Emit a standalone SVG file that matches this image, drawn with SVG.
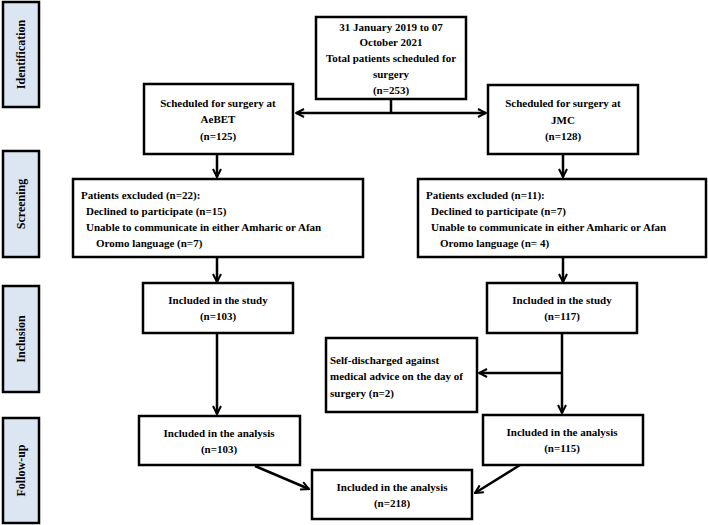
<svg xmlns="http://www.w3.org/2000/svg" width="708" height="525" viewBox="0 0 708 525">
<defs>
<marker id="ah" viewBox="0 0 10 10" refX="9" refY="5" markerWidth="4" markerHeight="4" orient="auto" markerUnits="strokeWidth">
<path d="M1,1 L9,5 L1,9" fill="none" stroke="#000" stroke-width="2"/>
</marker>
<style>
.box{fill:#fff;stroke:#000;stroke-width:2.5}
.side{fill:#dce6f2;stroke:#000;stroke-width:2.5}
text{font-family:"Liberation Serif","Times New Roman",serif;font-weight:bold;font-size:11px;fill:#000}
.c{text-anchor:middle}
.s{font-size:12px;text-anchor:middle}
.ln{fill:none;stroke:#000;stroke-width:2.5}
</style>
</defs>
<rect width="708" height="525" fill="#fff"/>
<g id="side-identification"><rect class="side" x="3" y="2" width="36" height="105"/><text class="s" transform="translate(25,54.5) rotate(-90)">Identification</text></g>
<g id="side-screening"><rect class="side" x="3" y="151" width="36" height="106"/><text class="s" transform="translate(25,204) rotate(-90)">Screening</text></g>
<g id="side-inclusion"><rect class="side" x="3" y="286" width="36" height="106"/><text class="s" transform="translate(25,339) rotate(-90)">Inclusion</text></g>
<g id="side-followup"><rect class="side" x="3" y="418" width="36" height="105"/><text class="s" transform="translate(25,470.5) rotate(-90)">Follow-up</text></g>

<g id="connectors">
<path class="ln" d="M391,99 V113"/>
<path class="ln" d="M391,113 H296" marker-end="url(#ah)"/>
<path class="ln" d="M391,113 H486" marker-end="url(#ah)"/>
<path class="ln" d="M217,154 V177" marker-end="url(#ah)"/>
<path class="ln" d="M563,154 V177" marker-end="url(#ah)"/>
<path class="ln" d="M217,257 V282" marker-end="url(#ah)"/>
<path class="ln" d="M563,257 V282" marker-end="url(#ah)"/>
<path class="ln" d="M217,333 V414" marker-end="url(#ah)"/>
<path class="ln" d="M562,333 V413" marker-end="url(#ah)"/>
<path class="ln" d="M562,373 H479" marker-end="url(#ah)"/>
<path class="ln" d="M255,466 L309,489" marker-end="url(#ah)"/>
<path class="ln" d="M520,465 L475,493" marker-end="url(#ah)"/>
</g>

<g id="total"><rect class="box" x="316" y="17" width="150" height="82"/>
<text class="c" x="391" y="31">31 January 2019 to 07</text>
<text class="c" x="391" y="46">October 2021</text>
<text class="c" x="391" y="62">Total patients scheduled for</text>
<text class="c" x="391" y="78">surgery</text>
<text class="c" x="391" y="94">(n=253)</text></g>

<g id="aebet"><rect class="box" x="144" y="84" width="149" height="70"/>
<text class="c" x="218" y="107">Scheduled for surgery at</text>
<text class="c" x="218" y="123">AeBET</text>
<text class="c" x="218" y="140">(n=125)</text></g>

<g id="jmc"><rect class="box" x="488" y="85" width="150" height="69"/>
<text class="c" x="563" y="107">Scheduled for surgery at</text>
<text class="c" x="563" y="124">JMC</text>
<text class="c" x="563" y="140">(n=128)</text></g>

<g id="excl-left"><rect class="box" x="73" y="179" width="290" height="78"/>
<text x="81" y="199">Patients excluded (n=22):</text>
<text x="86" y="215">Declined to participate (n=15)</text>
<text x="86" y="231">Unable to communicate in either Amharic or Afan</text>
<text x="96" y="247">Oromo language (n=7)</text></g>

<g id="excl-right"><rect class="box" x="418" y="179" width="288" height="78"/>
<text x="426" y="199">Patients excluded (n=11):</text>
<text x="431" y="215">Declined to participate (n=7)</text>
<text x="431" y="231">Unable to communicate in either Amharic or Afan</text>
<text x="440" y="247">Oromo language (n= 4)</text></g>

<g id="study-left"><rect class="box" x="143" y="283" width="150" height="50"/>
<text class="c" x="218" y="304">Included in  the study</text>
<text class="c" x="218" y="320">(n=103)</text></g>

<g id="study-right"><rect class="box" x="487" y="283" width="150" height="50"/>
<text class="c" x="562" y="304">Included in  the study</text>
<text class="c" x="562" y="320">(n=117)</text></g>

<g id="self-discharged"><rect class="box" x="326" y="338" width="151" height="74"/>
<text x="330" y="364">Self-discharged against</text>
<text x="330" y="380">medical advice on the day of</text>
<text x="330" y="397">surgery (n=2)</text></g>

<g id="analysis-left"><rect class="box" x="139" y="416" width="161" height="49"/>
<text class="c" x="219" y="437">Included in  the analysis</text>
<text class="c" x="219" y="453">(n=103)</text></g>

<g id="analysis-right"><rect class="box" x="483" y="415" width="160" height="50"/>
<text class="c" x="562" y="436">Included in  the analysis</text>
<text class="c" x="562" y="452">(n=115)</text></g>

<g id="analysis-total"><rect class="box" x="312" y="470" width="160" height="49"/>
<text class="c" x="392" y="491">Included in  the analysis</text>
<text class="c" x="392" y="507">(n=218)</text></g>
</svg>
